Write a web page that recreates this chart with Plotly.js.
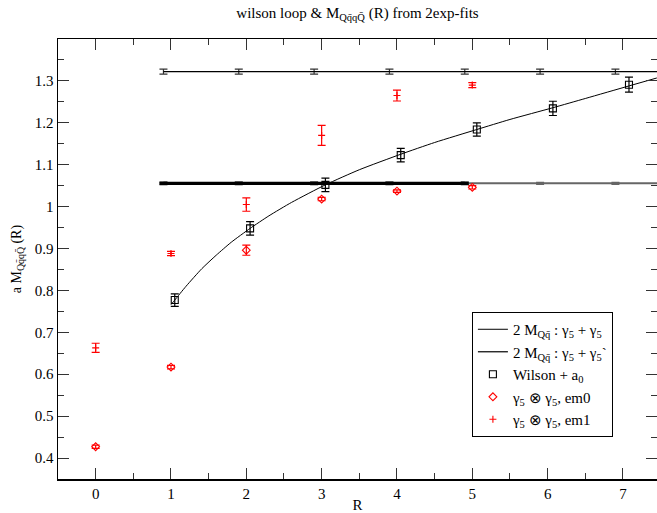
<!DOCTYPE html>
<html>
<head>
<meta charset="utf-8">
<script src="https://cdn.plot.ly/plotly-3.0.1.min.js"></script>
<style>
html,body{margin:0;padding:0;background:#fff;}
#chart{width:657px;height:513px;}
#chart text, #chart tspan { font-family: "Liberation Serif", "Times New Roman", Times, serif !important; }
</style>
</head>
<body>
<div id="chart"></div>
<script>
// ---- data ----
const lineX = [0.9, 1.9, 2.9, 3.9, 4.9];
const lineY = [1.0556, 1.0556, 1.0556, 1.0556, 1.0556];
const lineErr = [0.002, 0.002, 0.002, 0.002, 0.002];

const lineLongX = [0.9, 1.9, 2.9, 3.9, 4.9, 5.9, 6.9, 7.9];
const lineLongY = [1.0556, 1.0556, 1.0556, 1.0556, 1.0556, 1.0556, 1.0556, 1.0556];
const lineLongErr = [0.002, 0.002, 0.002, 0.002, 0.002, 0.002, 0.002, 0.002];

const topX = [0.9, 1.9, 2.9, 3.9, 4.9, 5.9, 6.9, 7.9];
const topY = [1.322, 1.322, 1.322, 1.322, 1.322, 1.322, 1.322, 1.322];
const topErr = [0.006, 0.006, 0.006, 0.006, 0.006, 0.006, 0.006, 0.006];

const wilsonX = [1.05, 2.05, 3.05, 4.05, 5.06, 6.07, 7.08];
const wilsonY = [0.777, 0.948, 1.052, 1.123, 1.184, 1.2345, 1.291];
const wilsonErr = [0.015, 0.016, 0.016, 0.016, 0.016, 0.017, 0.018];

const fitX = [1.0, 1.05, 1.2, 1.41, 1.6, 1.8, 2.05, 2.3, 2.6, 3.05, 3.5, 4.05, 4.5, 5.06, 5.5, 6.07, 6.5, 7.08, 7.45];
const fitY = [0.766, 0.777, 0.81, 0.852, 0.884, 0.915, 0.948, 0.978, 1.01, 1.052, 1.088, 1.125, 1.153, 1.184, 1.208, 1.236, 1.258, 1.288, 1.307];

const em0X = [0, 1, 2, 3, 4, 5];
const em0Y = [0.427, 0.617, 0.896, 1.018, 1.037, 1.046];
const em0Err = [0.004, 0.004, 0.012, 0.004, 0.003, 0.004];

const em1X = [0, 1, 2, 3, 4, 5];
const em1Y = [0.663, 0.888, 1.005, 1.170, 1.265, 1.290];
const em1Err = [0.011, 0.005, 0.016, 0.024, 0.013, 0.006];

const xTickVals = [0, 1, 2, 3, 4, 5, 6, 7];
const xTickText = ['0', '1', '2', '3', '4', '5', '6', '7'];
const yTickVals = [0.4, 0.5, 0.6, 0.7, 0.8, 0.9, 1.0, 1.1, 1.2, 1.3];
const yTickText = ['0.4', '0.5', '0.6', '0.7', '0.8', '0.9', '1', '1.1', '1.2', '1.3'];

const serif = 'Times New Roman';
const QQ = 'Qq\u0304qQ\u0304';

function errs(arr, color, thick) {
  return {type: 'data', array: arr, visible: true, color: color, thickness: thick, width: 4};
}

const traces = [
  {x: lineLongX, y: lineLongY, mode: 'lines', showlegend: false, hoverinfo: 'skip',
   line: {color: '#666', width: 2}, error_y: errs(lineLongErr, '#666', 1.5)},
  {x: lineX, y: lineY, mode: 'lines', showlegend: false, hoverinfo: 'skip',
   line: {color: '#000', width: 3.2}, error_y: errs(lineErr, '#000', 2)},
  {x: lineX, y: lineY, mode: 'lines', name: '2 M<sub>Qq\u0304</sub> : \u03b3<sub>5</sub> + \u03b3<sub>5</sub>',
   line: {color: '#000', width: 1}},
  {x: topX, y: topY, mode: 'lines', name: '2 M<sub>Qq\u0304</sub> : \u03b3<sub>5</sub> + \u03b3<sub>5</sub>`',
   line: {color: '#000', width: 1.2}, error_y: errs(topErr, '#333', 1.2)},
  {x: fitX, y: fitY, mode: 'lines', showlegend: false, line: {color: '#000', width: 1, shape: 'spline', smoothing: 0.6}},
  {x: wilsonX, y: wilsonY, mode: 'markers', name: 'Wilson + a<sub>0</sub>',
   marker: {symbol: 'square-open', size: 7, color: '#000', line: {width: 1.1}},
   error_y: errs(wilsonErr, '#000', 1.2)},
  {x: em0X, y: em0Y, mode: 'markers', name: '\u03b3<sub>5</sub> \u2297 \u03b3<sub>5</sub>, em0',
   marker: {symbol: 'diamond-open', size: 6, color: '#ff0000', line: {width: 1.1}},
   error_y: errs(em0Err, '#ff0000', 1.2)},
  {x: em1X, y: em1Y, mode: 'markers', name: '\u03b3<sub>5</sub> \u2297 \u03b3<sub>5</sub>, em1',
   marker: {symbol: 'cross-thin-open', size: 5, color: '#ff0000', line: {width: 1.1, color: '#ff0000'}},
   error_y: errs(em1Err, '#ff0000', 1.2)}
];

const axisCommon = {
  showline: true, linecolor: '#000', linewidth: 1.5, mirror: 'ticks',
  ticks: 'inside', ticklen: 11, tickwidth: 1, tickcolor: '#333',
  showgrid: false, zeroline: false,
  tickfont: {family: serif, size: 15, color: '#000'},
  tickmode: 'array'
};

const layout = {
  width: 657, height: 513,
  margin: {l: 58, r: 0, t: 39, b: 34},
  paper_bgcolor: '#fff', plot_bgcolor: '#fff',
  font: {family: serif, color: '#000'},
  title: {text: 'wilson loop &amp; M<sub>' + QQ + '</sub> (R) from 2exp-fits',
          font: {family: serif, size: 15, color: '#000'},
          x: 0.5, xref: 'paper', y: 0.975, yref: 'container', yanchor: 'middle'},
  xaxis: Object.assign({}, axisCommon, {
    range: [-0.5, 7.452], tickvals: xTickVals, ticktext: xTickText,
    minor: {tickmode: 'linear', tick0: 0, dtick: 0.5, ticks: 'inside', ticklen: 6, tickcolor: '#333', tickwidth: 1},
    title: {text: 'R', font: {family: serif, size: 15, color: '#000'}, standoff: 3}
  }),
  yaxis: Object.assign({}, axisCommon, {
    range: [0.35, 1.4], tickvals: yTickVals, ticktext: yTickText,
    minor: {tickmode: 'linear', tick0: 0, dtick: 0.05, ticks: 'inside', ticklen: 6, tickcolor: '#333', tickwidth: 1},
    title: {text: 'a M<sub>' + QQ + '</sub> (R)', font: {family: serif, size: 14, color: '#000'}, standoff: 10}
  }),
  legend: {
    x: 0.691, y: 0.3795, xanchor: 'left', yanchor: 'top',
    bordercolor: '#000', borderwidth: 1, bgcolor: '#fff',
    font: {family: serif, size: 15, color: '#000'},
    traceorder: 'normal', itemwidth: 30
  },
  showlegend: true
};

Plotly.newPlot('chart', traces, layout, {displayModeBar: false, staticPlot: true});
</script>
</body>
</html>
